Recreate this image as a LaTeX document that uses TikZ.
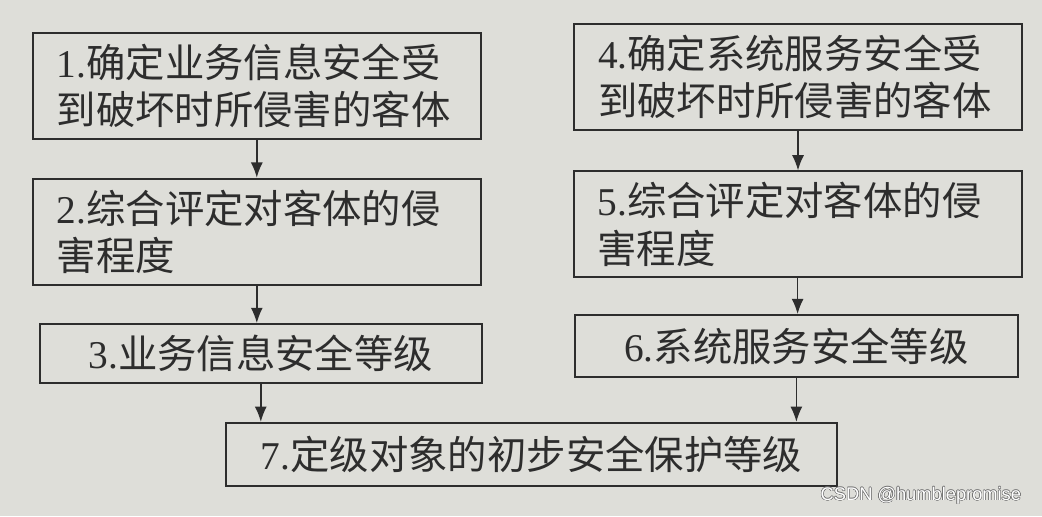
\documentclass[tikz,border=0pt]{standalone}
\usepackage{fontspec}
\usepackage{contour}
\setmainfont{Liberation Serif}
\setsansfont{Liberation Sans}
\newfontfamily\cjk{Noto Sans CJK SC}
\definecolor{paper}{RGB}{222,222,217}
\definecolor{ink}{RGB}{45,45,45}
\usetikzlibrary{arrows.meta, positioning, calc}
\contourlength{0.35pt}

\begin{document}
\begin{tikzpicture}[>={Latex[length=0.38cm,width=0.3cm]},
  block/.style={draw=ink, line width=1.4pt, text=ink, inner xsep=0.6cm, inner ysep=0pt, font=\cjk\fontsize{28}{33.5}\selectfont},
  twoline/.style={block, align=left, text width=10cm, minimum height=2.65cm},
  oneline/.style={block, align=center}]
\fill[paper] (0,0) rectangle (26.05,-12.9);

\node[twoline] (objinfo) at (6.42,-2.15) {{\rmfamily 1.}确定业务信息安全受\\到破坏时所侵害的客体};
\node[twoline] (harminfo) at (6.42,-5.79) {{\rmfamily 2.}综合评定对客体的侵\\害程度};
\node[oneline, minimum width=11.05cm, minimum height=1.48cm] (lvlinfo) at (6.52,-8.84) {{\rmfamily 3.}业务信息安全等级};

\node[twoline] (objsvc) at (19.95,-1.93) {{\rmfamily 4.}确定系统服务安全受\\到破坏时所侵害的客体};
\node[twoline] (harmsvc) at (19.94,-5.61) {{\rmfamily 5.}综合评定对客体的侵\\害程度};
\node[oneline, minimum width=11.08cm, minimum height=1.55cm] (lvlsvc) at (19.91,-8.65) {{\rmfamily 6.}系统服务安全等级};

\node[oneline, minimum width=15.28cm, minimum height=1.58cm] (final) at (13.29,-11.36) {{\rmfamily 7.}定级对象的初步安全保护等级};

\draw[->, line width=1pt, ink] (objinfo.south) -- (objinfo.south |- harminfo.north);
\draw[->, line width=1pt, ink] (harminfo.south) -- (harminfo.south |- lvlinfo.north);
\draw[->, line width=1pt, ink] (lvlinfo.south) -- (lvlinfo.south |- final.north);
\draw[->, line width=1pt, ink] (objsvc.south) -- (objsvc.south |- harmsvc.north);
\draw[->, line width=1pt, ink] (harmsvc.south) -- (harmsvc.south |- lvlsvc.north);
\draw[->, line width=1pt, ink] (lvlsvc.south) -- (lvlsvc.south |- final.north);

\node[anchor=east, font=\sffamily\fontsize{13}{13}\selectfont] (mark) at (25.65,-12.4) {\contour{black!55}{\textcolor{white}{CSDN @humblepromise}}};
\end{tikzpicture}
\end{document}
